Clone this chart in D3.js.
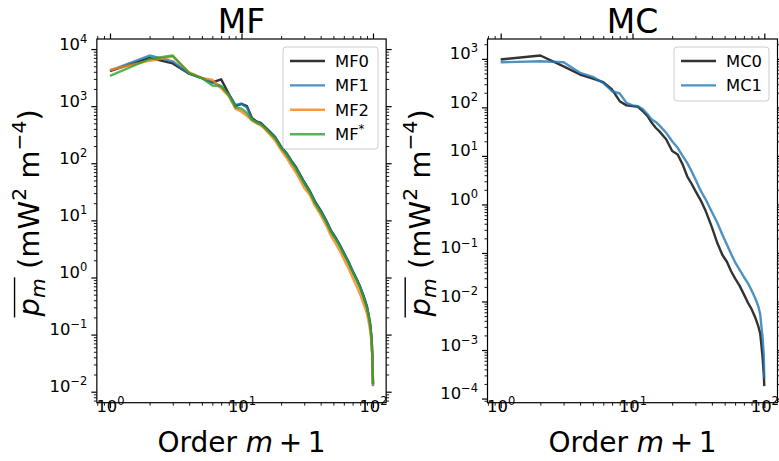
<!DOCTYPE html>
<html>
<head>
<meta charset="utf-8">
<script src="https://cdn.jsdelivr.net/npm/d3@7"></script>
<style>
  body { margin: 0; background: #fff; }
  svg { display: block; font-family: "DejaVu Sans", sans-serif; }
</style>
</head>
<body>
<svg id="chart" width="779" height="461"></svg>
<script>
// order m+1 (shared x values)
const orders = [1,2,3,4,5,6,7,8,9,10,11,12,13,14,15,16,18,20,22,24,26,28,30,33,36,40,44,48,52,56,60,65,70,75,80,85,90,93,95,97,98,99,100];

// MF panel
const mf0 = [4100,7000,5600,3700,3100,2600,2950,1650,1000,1100,1000,620,540,510,440,380,
  290,195,150,110,85,62,47, 33,22,15,10,6.6,5.0,3.7,2.7, 1.9,1.3,0.95,0.68,0.47,0.31,
  0.21,0.16,0.10,0.07,0.04,0.0135];
const mf1 = [4200,7700,6100,3700,3100,2600,2250,1600,1050,1100,950,600,530,490,430,370,
  285,190,148,108,82,61,46, 32,21,14.5,9.8,6.4,4.8,3.6,2.6, 1.85,1.27,0.92,0.66,0.45,0.30,
  0.20,0.15,0.095,0.065,0.038,0.0125];
const mf2 = [4300,6250,7400,3900,3100,2900,2050,1500,900,800,680,560,500,460,400,340,
  250,170,125,90,68,50,37, 28,18.5,12.5,8.2,5.3,3.9,2.9,2.1, 1.45,1.0,0.7,0.5,0.34,0.23,
  0.16,0.12,0.08,0.055,0.033,0.013];
const mfStar = [3400,6700,7700,3800,3100,2300,2230,1550,950,900,760,580,520,480,420,360,
  275,185,142,104,79,58,44, 31,20.5,14,9.4,6.2,4.7,3.5,2.55, 1.8,1.25,0.9,0.65,0.44,0.29,
  0.2,0.15,0.093,0.064,0.038,0.0135];

// MC panel
const mc0 = [970,1170,700,475,390,330,233,134,110,106,103,83,66,48,38,32,
  22,12.6,10.7,6.7,3.8,2.7,1.9, 1.2,0.72,0.34,0.16,0.092,0.066,0.042,0.030,
  0.021,0.014,0.0095,0.0070,0.0048,0.0031, 0.0022,0.0013,0.0007,0.00048,0.00032,0.00018];
const mc1 = [850,890,850,515,425,320,215,193,124,110,106,91,72,56,50,42.6,
  30,20,14.7,10,7.2,4.9,3.3, 1.9,1.25,0.7,0.42,0.24,0.15,0.095,0.065,
  0.045,0.032,0.024,0.017,0.012,0.008, 0.0055,0.0031,0.0018,0.0012,0.0008,0.00026];

const xMajors = [1, 10, 100];

const colors = {
  k: "#000000", blue: "#1f77b4", orange: "#ff7f0e", green: "#2ca02c"
};

const panels = [
  {
    title: "MF", left: 96.85, right: 386.15,
    series: [
      {name: "MF0", values: mf0, color: colors.k},
      {name: "MF1", values: mf1, color: colors.blue},
      {name: "MF2", values: mf2, color: colors.orange},
      {name: "MF", sup: "*", values: mfStar, color: colors.green}
    ],
    legend: {x: 283, y: 47, w: 95, h: 102}
  },
  {
    title: "MC", left: 487.5, right: 777.5,
    series: [
      {name: "MC0", values: mc0, color: colors.k},
      {name: "MC1", values: mc1, color: colors.blue}
    ],
    legend: {x: 674, y: 47, w: 95, h: 54}
  }
];

const plotTop = 39, plotBottom = 402.7;
const svg = d3.select("#chart");

// append text made of runs: {t, italic, shift(px, positive = up), size}
function richText(sel, runs, baseSize) {
  let prev = 0;
  runs.forEach(r => {
    const shift = r.shift || 0;
    sel.append("tspan")
      .attr("dy", (prev - shift))
      .attr("font-size", r.size || baseSize)
      .attr("font-style", r.italic ? "italic" : null)
      .text(r.t);
    prev = shift;
  });
  return sel;
}

function powLabel(sel, k, size) {
  const e = k < 0 ? "\u2212" + (-k) : String(k);
  sel.text(null);
  richText(sel, [{t: "10"}, {t: e, shift: size * 0.42, size: size * 0.7}], size);
}

function minorsOf(dom) {
  const out = [];
  for (let k = Math.floor(Math.log10(dom[0])); k <= Math.ceil(Math.log10(dom[1])); k++) {
    for (let m = 2; m <= 9; m++) {
      const v = m * Math.pow(10, k);
      if (v >= dom[0] && v <= dom[1]) out.push(v);
    }
  }
  return out;
}

function majorsOf(dom) {
  const out = [];
  for (let k = Math.ceil(Math.log10(dom[0]) - 1e-9); k <= Math.floor(Math.log10(dom[1]) + 1e-9); k++) {
    out.push(Math.pow(10, k));
  }
  return out;
}

function drawPanel(p) {
  const g = svg.append("g");
  const x = d3.scaleLog().domain([Math.pow(10, -0.1), Math.pow(10, 2.1)]).range([p.left, p.right]);

  const all = p.series.flatMap(s => s.values);
  const lo = Math.log10(d3.min(all)), hi = Math.log10(d3.max(all));
  const pad = (hi - lo) * 0.05;
  const y = d3.scaleLog().domain([Math.pow(10, lo - pad), Math.pow(10, hi + pad)]).range([plotBottom, plotTop]);

  const yMajors = majorsOf(y.domain());
  const fs = 16.4;
  const axes = [
    {make: () => d3.axisBottom(x), t: `translate(0,${plotBottom})`, majors: xMajors, minors: minorsOf(x.domain()), labels: true},
    {make: () => d3.axisTop(x), t: `translate(0,${plotTop})`, majors: xMajors, minors: minorsOf(x.domain()), labels: false},
    {make: () => d3.axisLeft(y), t: `translate(${p.left},0)`, majors: yMajors, minors: minorsOf(y.domain()), labels: true},
    {make: () => d3.axisRight(y), t: `translate(${p.right},0)`, majors: yMajors, minors: minorsOf(y.domain()), labels: false}
  ];
  axes.forEach(a => {
    const minorG = g.append("g").attr("transform", a.t)
      .call(a.make().tickValues(a.minors).tickSize(3).tickSizeOuter(0).tickFormat(""));
    minorG.select(".domain").remove();
    minorG.selectAll("line").attr("stroke", "#000").attr("stroke-width", 0.9);

    const majorG = g.append("g").attr("transform", a.t)
      .call(a.make().tickValues(a.majors).tickSize(5.5).tickPadding(4).tickSizeOuter(0)
        .tickFormat(a.labels ? (d => d) : ""));
    majorG.select(".domain").remove();
    majorG.selectAll("line").attr("stroke", "#000").attr("stroke-width", 1.2);
    majorG.selectAll("text")
      .attr("font-family", "DejaVu Sans").attr("font-size", fs).attr("fill", "#000")
      .each(function(d) {
        if (!a.labels) return;
        powLabel(d3.select(this), Math.round(Math.log10(d)), fs);
      });
  });

  // data lines
  const line = d3.line()
    .x((d, i) => x(orders[i]))
    .y(d => y(d));
  p.series.forEach(s => {
    g.append("path")
      .datum(s.values)
      .attr("d", line)
      .attr("fill", "none")
      .attr("stroke", s.color)
      .attr("stroke-opacity", 0.8)
      .attr("stroke-width", 2.4)
      .attr("stroke-linejoin", "round");
  });

  // frame
  g.append("rect")
    .attr("x", p.left).attr("y", plotTop)
    .attr("width", p.right - p.left).attr("height", plotBottom - plotTop)
    .attr("fill", "none").attr("stroke", "#000").attr("stroke-width", 1.2);

  const cx = (p.left + p.right) / 2;

  // title
  g.append("text")
    .attr("x", cx).attr("y", 33)
    .attr("text-anchor", "middle")
    .attr("font-size", 33)
    .text(p.title);

  // x label
  const xl = g.append("text")
    .attr("x", cx).attr("y", 452)
    .attr("text-anchor", "middle")
    .attr("font-size", 28);
  richText(xl, [{t: "Order "}, {t: "m", italic: true}, {t: "\u2009+\u20091"}], 28);

  // y label (rotated) with overline on p_m
  const yg = g.append("g")
    .attr("transform", `translate(${p.left - 58},${(plotTop + plotBottom) / 2 - 8}) rotate(-90)`);
  const yt = yg.append("text").attr("text-anchor", "middle").attr("font-size", 29);
  richText(yt, [
    {t: "p", italic: true},
    {t: "m", italic: true, shift: -6, size: 20.3},
    {t: " (mW"},
    {t: "2", shift: 12.5, size: 20.3},
    {t: " m"},
    {t: "\u22124", shift: 12.5, size: 20.3},
    {t: ")"}
  ], 29);
  const n = yt.node();
  const s0 = n.getStartPositionOfChar(0), e1 = n.getEndPositionOfChar(1);
  yg.append("line")
    .attr("x1", s0.x - 1).attr("x2", e1.x + 1)
    .attr("y1", -24.3).attr("y2", -24.3)
    .attr("stroke", "#000").attr("stroke-width", 1.4);

  // legend
  const L = p.legend;
  const lg = g.append("g");
  lg.append("rect")
    .attr("x", L.x).attr("y", L.y).attr("width", L.w).attr("height", L.h)
    .attr("rx", 3)
    .attr("fill", "#fff").attr("fill-opacity", 0.8)
    .attr("stroke", "#cccccc").attr("stroke-width", 1);
  p.series.forEach((s, i) => {
    const ry = L.y + 14 + i * 24.4;
    lg.append("line")
      .attr("x1", L.x + 7).attr("x2", L.x + 42)
      .attr("y1", ry).attr("y2", ry)
      .attr("stroke", s.color).attr("stroke-opacity", 0.8).attr("stroke-width", 2.4);
    const tt = lg.append("text")
      .attr("x", L.x + 52).attr("y", ry + 6)
      .attr("font-size", fs);
    const runs = [{t: s.name}];
    if (s.sup) runs.push({t: s.sup, shift: 7, size: 11.5});
    richText(tt, runs, fs);
  });
}

panels.forEach(drawPanel);
</script>
</body>
</html>
